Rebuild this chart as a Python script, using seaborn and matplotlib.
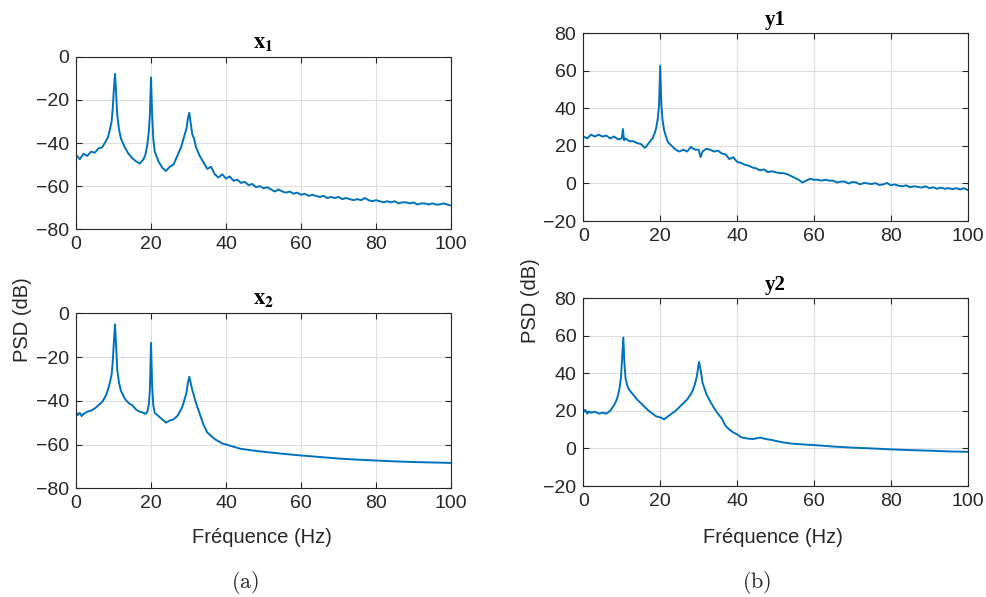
import numpy as np
import pandas as pd
import matplotlib
matplotlib.use("Agg")
import matplotlib.pyplot as plt
import seaborn as sns

# ---- data (frequency in Hz, PSD in dB) ----
x1_freq = [0, 1, 2, 3, 4, 5, 6, 7, 8, 8.5, 9, 9.5, 9.8, 10.1, 10.4, 10.7, 11, 11.5, 12, 13, 14, 15, 16, 17,
           18, 18.5, 19, 19.4, 19.7, 20, 20.3, 20.6, 21, 22, 23, 24, 25, 26, 27, 28, 28.5, 29, 29.5, 29.8,
           30.2, 30.6, 31, 31.5, 32, 33, 34, 35, 36, 37, 38, 39, 40, 41, 42, 43, 44, 45, 46, 47, 48, 49,
           50, 51, 52, 53, 54, 55, 56, 57, 58, 59, 60, 61, 62, 63, 64, 65, 66, 67, 68, 69, 70, 71, 72,
           73, 74, 75, 76, 77, 78, 79, 80, 81, 82, 83, 84, 85, 86, 87, 88, 89, 90, 91, 92, 93, 94, 95,
           96, 97, 98, 99, 100]
x1_psd = [-45.5, -47.5, -45, -46, -44, -44.5, -42.5, -42, -39, -37.5, -34, -30, -24, -15, -8, -17, -27,
          -34, -38, -42, -45, -47, -48.5, -49.5, -47.5, -45.5, -41, -35, -27, -9.6, -27, -38, -44, -48.5,
          -51.5, -53, -51, -50, -46, -42, -39, -36, -33, -29, -26, -31, -36, -38, -42, -46, -49, -52, -51,
          -54.5, -56, -54.5, -56.5, -55.5, -57.5, -57, -58.5, -58, -59.5, -59, -60.5, -60, -61, -60.5,
          -61.5, -62.5, -61.5, -62.5, -63, -62.5, -63.5, -63, -64, -63.5, -64.5, -64, -64.5, -65, -64.5,
          -65.5, -65, -65.5, -65, -66, -65.5, -66, -66.5, -66, -66.5, -65.5, -66.5, -67, -66.5, -67,
          -67.5, -67, -67.5, -67, -68, -67.5, -67.5, -68, -67.5, -68.5, -68, -68, -68.5, -68, -68.5,
          -68.5, -68, -68.5, -69]

x2_freq = [0, 0.5, 1, 1.5, 2, 3, 4, 5, 6, 7, 8, 8.5, 9, 9.5, 9.8, 10.1, 10.4, 10.7, 11, 11.5, 12, 13, 14,
           15, 16, 17, 18, 18.5, 19, 19.4, 19.7, 20, 20.3, 20.6, 21, 22, 23, 24, 25, 26, 27, 28, 28.5, 29,
           29.5, 29.8, 30.2, 30.6, 31, 31.5, 32, 33, 34, 35, 36, 37, 38, 39, 40, 41, 42, 43, 44, 45, 47,
           50, 55, 60, 65, 70, 75, 80, 85, 90, 95, 100]
x2_psd = [-45, -46.5, -45.5, -47, -46, -45, -44.5, -43.5, -42, -40.5, -37.5, -35, -32, -28, -22, -13, -5,
          -15, -26, -32, -35.5, -39, -41, -42, -44, -45, -45.5, -46, -45, -42, -35, -13.5, -33, -42,
          -45.5, -47, -48.5, -50, -49, -48.5, -47, -44, -42, -39, -36, -32, -29, -32, -35, -38, -41, -46,
          -51, -54.5, -56, -57.5, -58.5, -59.5, -60, -60.5, -61, -61.5, -62, -62.2, -62.7, -63.3, -64.2,
          -65, -65.7, -66.4, -66.9, -67.3, -67.7, -68, -68.2, -68.4]

y1_freq = [0, 1, 2, 3, 4, 5, 6, 7, 8, 9, 10, 10.3, 10.6, 11, 12, 13, 14, 15, 16, 16.5, 17, 18, 18.6, 19,
           19.4, 19.7, 20, 20.3, 20.6, 21, 21.5, 22, 23, 24, 25, 26, 27, 28, 29, 30, 30.5, 31, 32, 33, 34,
           35, 36, 37, 38, 39, 40, 41, 42, 43, 44, 45, 46, 47, 48, 49, 50, 51, 52, 53, 54, 55, 56, 57, 58,
           59, 60, 61, 62, 63, 64, 65, 66, 67, 68, 69, 70, 71, 72, 73, 74, 75, 76, 77, 78, 79, 80, 81, 82,
           83, 84, 85, 86, 87, 88, 89, 90, 91, 92, 93, 94, 95, 96, 97, 98, 99, 100]
y1_psd = [25, 24, 26, 25, 26, 25, 25.5, 24, 25, 23.5, 24, 29, 23, 24, 22.5, 22.5, 21.5, 21, 19, 20, 21.5,
          24, 27, 30, 35, 42, 62.8, 42, 34, 28.5, 25, 22, 20, 18, 17, 18, 17, 19.5, 18, 18, 14, 17, 18.5,
          18, 17, 17.5, 16, 15.5, 13, 14, 11.5, 11, 10, 9.5, 8.5, 8, 7, 7.5, 6, 6.5, 6, 5.5, 5.5, 5, 4, 3,
          2, 0.5, 1.5, 2.5, 2, 2, 1.5, 2, 1.5, 1.5, 0.5, 1, 1, 0, 0.8, 0.5, -0.5, 0.3, 0, -0.3, 0.2, -0.8,
          -0.5, 0.3, -1, -0.5, -1.2, -1.5, -1, -2, -1.5, -1.8, -2.2, -1.5, -2.5, -2, -2.8, -2.2, -2.8,
          -2.5, -3, -2.5, -3.2, -2.5, -3.5]

y2_freq = [0, 0.5, 1, 1.5, 2, 3, 4, 5, 6, 7, 8, 8.5, 9, 9.5, 9.8, 10.1, 10.4, 10.7, 11, 11.5, 12, 13, 14,
           15, 16, 17, 18, 19, 20, 21, 22, 23, 24, 25, 26, 27, 28, 28.5, 29, 29.5, 29.8, 30.1, 30.4, 30.8,
           31, 31.5, 32, 33, 34, 35, 36, 37, 38, 39, 40, 41, 42, 43, 44, 45, 46, 47, 48, 49, 50, 52, 54,
           56, 58, 60, 65, 70, 75, 80, 85, 90, 95, 100]
y2_psd = [19.5, 20.5, 18.5, 19.5, 19, 19.5, 18.5, 19, 18.5, 20, 23, 25, 28, 33, 38, 48, 59, 45, 37, 33, 31,
          28.5, 26, 24, 22, 20, 18.5, 17, 16.5, 15.5, 17, 18.5, 20, 22, 24, 26, 29, 31, 34, 38, 42, 46, 43,
          38, 35, 32, 29, 25, 21.5, 18.5, 16, 12, 10, 8.5, 7.5, 6, 5.5, 5.2, 5, 5.3, 5.8, 5.2, 4.8, 4.5, 4,
          3.2, 2.6, 2.3, 2, 1.8, 1, 0.4, 0, -0.5, -0.9, -1.2, -1.6, -1.8]

panels = [
    # title, freq, psd, ylim, yticks, axes rect
    (r"$\mathbf{x_1}$", x1_freq, x1_psd, (-80, 0), [-80, -60, -40, -20, 0], [0.0770, 0.6159, 0.3800, 0.2891]),
    (r"$\mathbf{x_2}$", x2_freq, x2_psd, (-80, 0), [-80, -60, -40, -20, 0], [0.0770, 0.1821, 0.3800, 0.2931]),
    ("y1", y1_freq, y1_psd, (-20, 80), [-20, 0, 20, 40, 60, 80], [0.5910, 0.6298, 0.3895, 0.3144]),
    ("y2", y2_freq, y2_psd, (-20, 80), [-20, 0, 20, 40, 60, 80], [0.5910, 0.1859, 0.3895, 0.3149]),
]

sns.set_theme(style="ticks")
plt.rcParams['font.family'] = ['Liberation Sans', 'DejaVu Sans']
dark = '#262626'
blue = '#0072BD'

fig = plt.figure(figsize=(9.87, 5.97), dpi=100)

for title, f, p, ylim, yt, rect in panels:
    ax = fig.add_axes(rect)
    df = pd.DataFrame({"freq": f, "psd": p})
    sns.lineplot(data=df, x="freq", y="psd", ax=ax, color=blue, linewidth=1.4)
    ax.set_xlim(0, 100)
    ax.set_ylim(*ylim)
    ax.set_xticks([0, 20, 40, 60, 80, 100])
    ax.set_yticks(yt)
    ax.set_xlabel("")
    ax.set_ylabel("")
    ax.grid(True, color='#dfdfdf', linewidth=0.8)
    ax.set_axisbelow(True)
    for s in ax.spines.values():
        s.set_color(dark)
        s.set_linewidth(0.8)
        s.set_visible(True)
    ax.tick_params(direction='in', length=4, width=0.8, color=dark, labelcolor=dark,
                   labelsize=14, top=True, right=True, pad=5)
    if title.startswith("$"):
        ax.set_title(title, fontsize=16, math_fontfamily='stix', pad=6, color='black')
    else:
        ax.set_title(title, fontsize=15, fontfamily='Liberation Serif', fontweight='bold',
                     pad=6, color='black')

fig.text(0.0223, 0.464, "PSD (dB)", rotation=90, ha='center', va='center', fontsize=14.5, color=dark)
fig.text(0.537, 0.497, "PSD (dB)", rotation=90, ha='center', va='center', fontsize=14.5, color=dark)
fig.text(0.2655, 0.1005, "Fréquence (Hz)", ha='center', va='center', fontsize=14.5, color=dark)
fig.text(0.783, 0.1005, "Fréquence (Hz)", ha='center', va='center', fontsize=14.5, color=dark)
fig.text(0.248, 0.0235, r"$\mathrm{(a)}$", ha='center', va='center', fontsize=16, math_fontfamily='cm')
fig.text(0.767, 0.0235, r"$\mathrm{(b)}$", ha='center', va='center', fontsize=16, math_fontfamily='cm')

fig.savefig("out.png", dpi=100)
